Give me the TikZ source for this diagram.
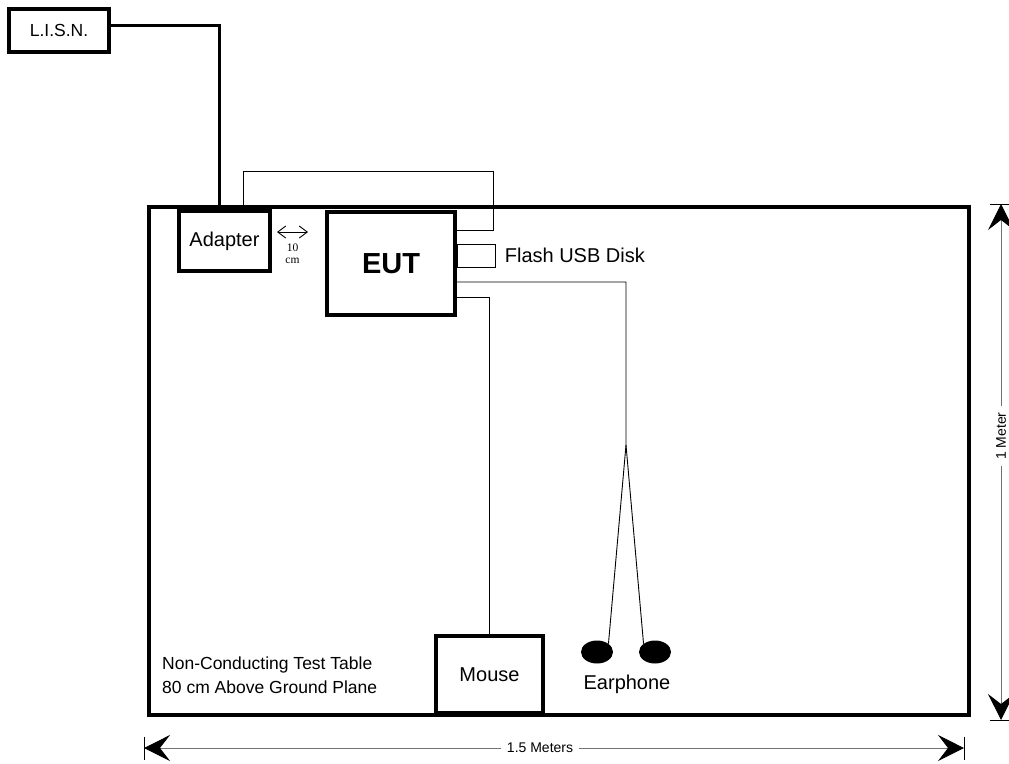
\documentclass[tikz,border=0pt]{standalone}
\usepackage{fontspec}
\setmainfont{Liberation Sans}
\newfontfamily\smallserif{Liberation Serif}
\usetikzlibrary{arrows.meta, positioning, calc, shapes.geometric}

\begin{document}
\begin{tikzpicture}[
        x=1pt, y=-1pt,
        box/.style={draw, line width=3.5pt, inner sep=0pt, align=center, font=\fontsize{20}{24}\selectfont},
        lbl/.style={inner sep=0pt, align=center, font=\fontsize{20}{24}\selectfont},
        wire/.style={line width=0.9pt},
        bud/.style={ellipse, fill, minimum width=32pt, minimum height=23pt, inner sep=0pt},
        dim/.style={draw=black!55, line width=1pt,
            {Stealth[length=26pt, width=26pt, inset=10pt, color=black]}-{Stealth[length=26pt, width=26pt, inset=10pt, color=black]}},
        endbar/.style={line width=1pt}
    ]
    \useasboundingbox (0,0) rectangle (1009,763);
    \node[draw, line width=4pt, minimum width=820pt, minimum height=508pt] (table) at (559,461) {};
    \node[box, minimum width=100pt, minimum height=43pt, font=\fontsize{17.5}{20}\selectfont] (lisn) at (59,30.5) {L.I.S.N.};
    \node[box, minimum width=91pt, minimum height=60pt] (adapter) at (224.5,241) {Adapter};
    \node[box, minimum width=128pt, minimum height=103pt, font=\fontsize{29}{32}\selectfont\bfseries] (eut) at (391,263.5) {EUT};
    \node[box, minimum width=107pt, minimum height=77pt] (mouse) at (489.5,674.5) {Mouse};
    \node[draw, wire, minimum width=38pt, minimum height=23pt, inner sep=0pt, anchor=west] (usb) at ([yshift=8pt]eut.east) {};
    \node[lbl, right=9pt of usb] (usblabel) {Flash USB Disk};
    \node[bud] (earl) at (597,652) {};
    \node[bud] (earr) at (655,652) {};
    \node[lbl] (earlabel) at (627,684) {Earphone};
    \node[lbl, anchor=west, align=left, font=\fontsize{17.5}{24}\selectfont] (tabletext) at (162,675) {Non-Conducting Test Table\\80 cm Above Ground Plane};
    \node[lbl, font=\smallserif\fontsize{11.5}{12}\selectfont] (gaptext) at (292.5,253.5) {10\\cm};

    \coordinate (loop) at (493,171);
    \coordinate (split) at (626,445);
    \coordinate (gapl) at (277,232);
    \coordinate (gapr) at (308,232);
    \coordinate (wl) at (144,748);
    \coordinate (wr) at (964,748);
    \coordinate (ht) at (1001,204);
    \coordinate (hb) at (1001,720);

    % cables
    \draw[line width=3pt] ([yshift=5.5pt]lisn.east) -| ([xshift=-5.5pt]adapter.north);
    \draw[wire] ([xshift=18.5pt]adapter.north) |- (loop) |- ([yshift=33.5pt]eut.east);
    \draw[wire] ([yshift=-18.5pt]eut.east) -| (split) -- (earl.north east);
    \draw[wire] (split) -- (earr.north west);
    \draw[wire] ([yshift=-33.5pt]eut.east) -| (mouse.north);
    \draw[wire, {Straight Barb[length=8pt, width=12pt]}-{Straight Barb[length=8pt, width=12pt]}] (gapl) -- (gapr);

    % dimensions
    \draw[dim] (wl) -- node[pos=0.483, fill=white, inner xsep=6pt, font=\fontsize{14}{16}\selectfont] (wlabel) {1.5 Meters} (wr);
    \draw[dim] (ht) -- node[pos=0.45, fill=white, inner xsep=6pt, rotate=90, font=\fontsize{14}{16}\selectfont] (hlabel) {1 Meter} (hb);
    \draw[endbar] ([yshift=11.5pt]wl) -- ([yshift=-11.5pt]wl);
    \draw[endbar] ([yshift=11.5pt]wr) -- ([yshift=-11.5pt]wr);
    \draw[endbar] ([xshift=-11pt]ht) -- ([xshift=8pt]ht);
    \draw[endbar] ([xshift=-11pt]hb) -- ([xshift=8pt]hb);
\end{tikzpicture}
\end{document}
